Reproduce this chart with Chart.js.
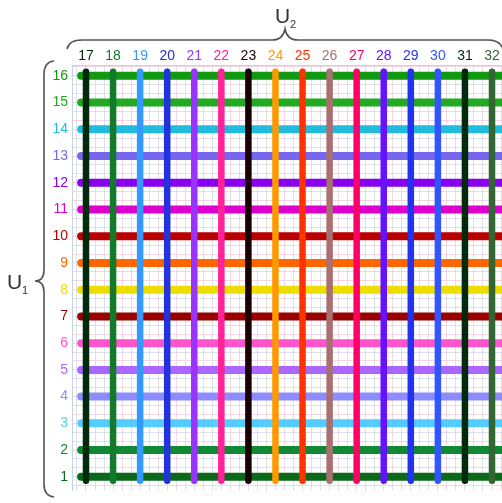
<!DOCTYPE html>
<html>
<head>
<meta charset="utf-8">
<script src="https://cdn.jsdelivr.net/npm/chart.js@4"></script>
<style>
html,body{margin:0;padding:0;background:#fff;}
#wrap{width:502px;height:503px;position:relative;}
</style>
</head>
<body>
<div id="wrap"><canvas id="c"></canvas></div>
<script>
// ---- data ----
const u1Values = [1,2,3,4,5,6,7,8,9,10,11,12,13,14,15,16];
const u2Values = [17,18,19,20,21,22,23,24,25,26,27,28,29,30,31,32];
const u1Colors = ['#0a6a1a','#118833','#55ccff','#8c8cff','#aa66ff','#ff55cc','#990000','#eedd00','#ff6600','#bb0000','#dd00cc','#8800ee','#7766ee','#22bbdd','#22aa22','#119911'];
const u2Colors = ['#012a0c','#127a2a','#3399ff','#2233dd','#9933ff','#ff2299','#1a0000','#ff9900','#ff3300','#a87070','#ff0066','#6611ff','#2233ee','#3355ff','#012a0c','#336633'];
const u1Title = 'U';
const u1Sub = '1';
const u2Title = 'U';
const u2Sub = '2';
// extent of each line in data units
const hSpan = [16.82, 32.6];
const vSpan = [0.85, 16.15];
const xRange = [16.483, 32.369];
const yRange = [0.484, 16.405];

const datasets = [];
u2Values.forEach((v, i) => {
  datasets.push({
    data: [{x: v, y: vSpan[0]}, {x: v, y: vSpan[1]}],
    borderColor: u2Colors[i], borderWidth: 6.5, borderCapStyle: 'round',
    pointRadius: 0, showLine: true, order: 0
  });
});
u1Values.forEach((v, i) => {
  datasets.push({
    data: [{x: hSpan[0], y: v}, {x: hSpan[1], y: v}],
    borderColor: u1Colors[i], borderWidth: 8, borderCapStyle: 'round',
    pointRadius: 0, showLine: true, order: 1
  });
});

function thirdTicks(scale) {
  const t = [];
  for (let k = Math.ceil(scale.min * 3); k <= Math.floor(scale.max * 3); k++) t.push({value: k / 3});
  scale.ticks = t;
}
const isInt = v => Math.abs(v - Math.round(v)) < 1e-6;
const gridColor = ctx => {
  const k = Math.round(ctx.tick.value * 3);
  return (k % 3 === 1) ? 'rgba(236,190,210,0.6)' : 'rgba(200,205,220,0.6)';
};

const bracePlugin = {
  id: 'braces',
  afterDraw(chart) {
    const c = chart.ctx;
    c.save();
    c.strokeStyle = '#555';
    c.lineWidth = 1.6;
    c.beginPath();
    c.moveTo(67, 49);
    c.quadraticCurveTo(69, 40, 82, 40);
    c.lineTo(272, 40);
    c.quadraticCurveTo(283, 40, 285, 29);
    c.quadraticCurveTo(287, 40, 298, 40);
    c.lineTo(488, 40);
    c.quadraticCurveTo(500, 40, 503, 49);
    c.stroke();
    c.beginPath();
    c.moveTo(54, 61);
    c.quadraticCurveTo(44, 62, 44, 74);
    c.lineTo(44, 270);
    c.quadraticCurveTo(44, 281, 35, 281);
    c.quadraticCurveTo(44, 281, 44, 292);
    c.lineTo(44, 484);
    c.quadraticCurveTo(44, 496, 54, 497);
    c.stroke();
    c.fillStyle = '#333';
    c.textBaseline = 'alphabetic';
    c.textAlign = 'left';
    c.font = '21px "Liberation Sans", Arial, sans-serif';
    c.fillText(u2Title, 275, 23);
    c.fillText(u1Title, 7, 289);
    c.font = '11px "Liberation Sans", Arial, sans-serif';
    c.fillText(u2Sub, 290, 28);
    c.fillText(u1Sub, 22, 294);
    c.restore();
  }
};

new Chart(document.getElementById('c'), {
  type: 'scatter',
  data: {datasets},
  options: {
    responsive: true, maintainAspectRatio: false, animation: false,
    layout: {padding: {left: 0, top: 0, right: 0, bottom: 6}},
    plugins: {legend: {display: false}, tooltip: {enabled: false}},
    scales: {
      x: {
        type: 'linear', position: 'top', min: xRange[0], max: xRange[1],
        afterBuildTicks: thirdTicks,
        afterFit: s => { s.height = 65; },
        grid: {color: gridColor, lineWidth: 1, drawTicks: false},
        border: {color: 'rgba(200,205,220,0.9)'},
        ticks: {
          autoSkip: false, maxRotation: 0, padding: 0,
          font: {family: '"Liberation Sans", Arial, sans-serif', size: 14},
          color: ctx => isInt(ctx.tick.value) ? (u2Colors[u2Values.indexOf(Math.round(ctx.tick.value))] || 'transparent') : 'transparent',
          callback: v => (isInt(v) && u2Values.includes(Math.round(v))) ? String(Math.round(v)) : ''
        }
      },
      y: {
        type: 'linear', position: 'left', min: yRange[0], max: yRange[1],
        afterBuildTicks: thirdTicks,
        afterFit: s => { s.width = 72; },
        grid: {color: gridColor, lineWidth: 1, drawTicks: false},
        border: {color: 'rgba(190,205,225,0.9)'},
        ticks: {
          autoSkip: false, padding: 4,
          font: {family: '"Liberation Sans", Arial, sans-serif', size: 14},
          color: ctx => isInt(ctx.tick.value) ? (u1Colors[u1Values.indexOf(Math.round(ctx.tick.value))] || 'transparent') : 'transparent',
          callback: v => (isInt(v) && u1Values.includes(Math.round(v))) ? String(Math.round(v)) : ''
        }
      }
    }
  },
  plugins: [bracePlugin]
});
</script>
</body>
</html>
